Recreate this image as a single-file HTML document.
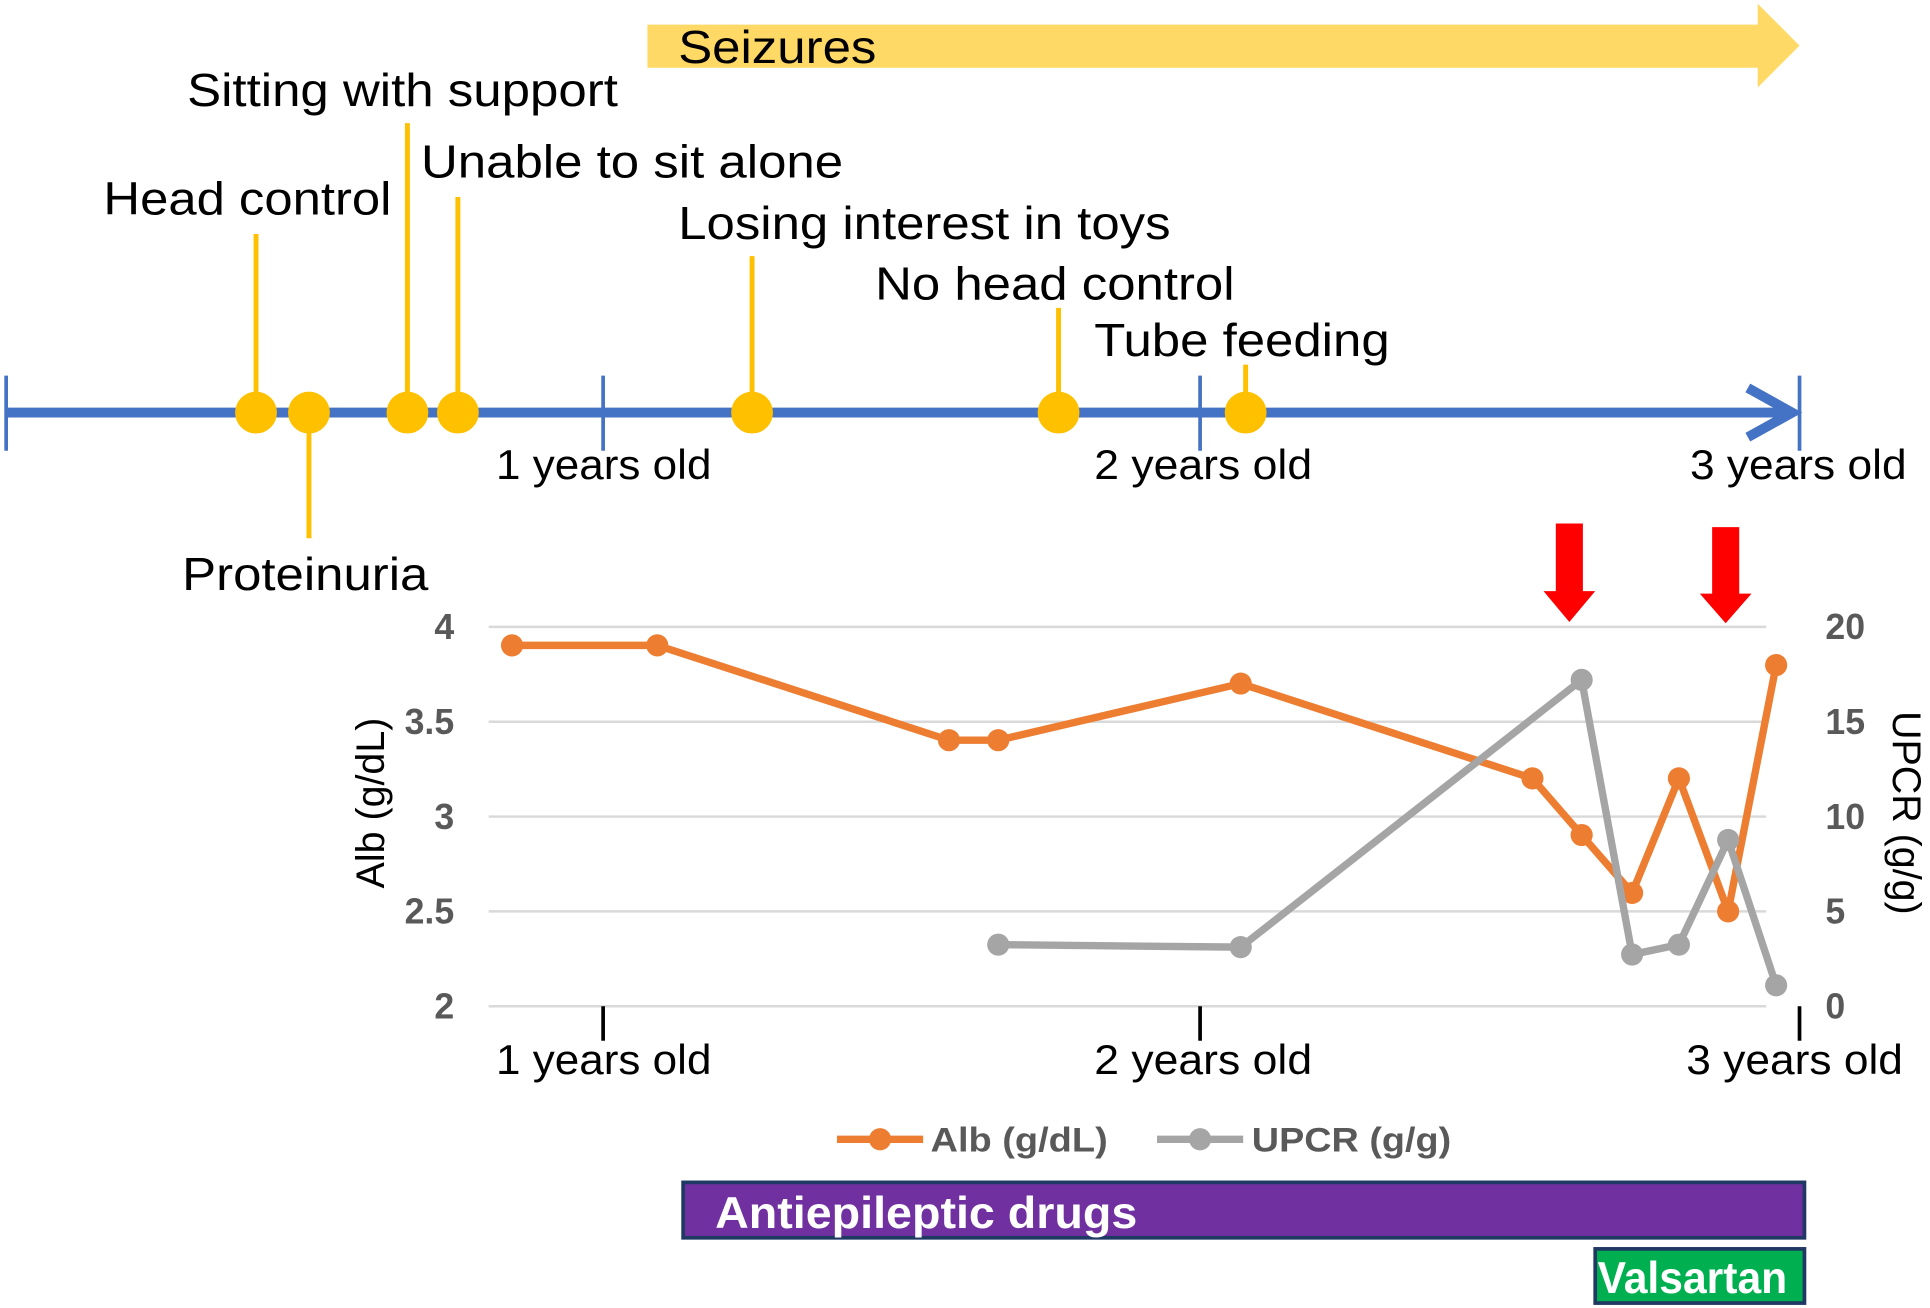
<!DOCTYPE html>
<html><head><meta charset="utf-8"><style>html,body{margin:0;padding:0;background:#fff}svg{display:block}</style></head>
<body>
<svg width="1930" height="1308" viewBox="0 0 1568 1062" preserveAspectRatio="none" xmlns="http://www.w3.org/2000/svg" font-family="Liberation Sans, Arial, sans-serif">
<polygon points="526,20 1428,20 1428,3 1462,37 1428,71 1428,55 526,55" fill="#FFD966"/>
<text x="551" y="51" font-size="38" fill="#000" textLength="161" lengthAdjust="spacingAndGlyphs">Seizures</text>
<g stroke="#FFC000" stroke-width="4">
<line x1="208" y1="190" x2="208" y2="335"/>
<line x1="251" y1="335" x2="251" y2="437"/>
<line x1="331" y1="100" x2="331" y2="335"/>
<line x1="372" y1="160" x2="372" y2="335"/>
<line x1="611" y1="208" x2="611" y2="335"/>
<line x1="860" y1="250" x2="860" y2="335"/>
<line x1="1012" y1="296" x2="1012" y2="335"/>
</g>
<line x1="5" y1="335" x2="1456" y2="335" stroke="#4472C4" stroke-width="8"/>
<polyline points="1420,315 1456,335 1420,355" fill="none" stroke="#4472C4" stroke-width="8"/>
<g stroke="#4472C4" stroke-width="3">
<line x1="5" y1="305" x2="5" y2="366"/>
<line x1="490" y1="305" x2="490" y2="366"/>
<line x1="975" y1="305" x2="975" y2="366"/>
<line x1="1462" y1="305" x2="1462" y2="366"/>
</g>
<g fill="#FFC000">
<circle cx="208" cy="335" r="17"/><circle cx="251" cy="335" r="17"/><circle cx="331" cy="335" r="17"/><circle cx="372" cy="335" r="17"/><circle cx="611" cy="335" r="17"/><circle cx="860" cy="335" r="17"/><circle cx="1012" cy="335" r="17"/>
</g>
<g font-size="38" fill="#000">
<text x="84" y="174" textLength="234" lengthAdjust="spacingAndGlyphs">Head control</text>
<text x="152" y="86" textLength="350" lengthAdjust="spacingAndGlyphs">Sitting with support</text>
<text x="342" y="144" textLength="343" lengthAdjust="spacingAndGlyphs">Unable to sit alone</text>
<text x="551" y="194" textLength="400" lengthAdjust="spacingAndGlyphs">Losing interest in toys</text>
<text x="711" y="243" textLength="292" lengthAdjust="spacingAndGlyphs">No head control</text>
<text x="889" y="289" textLength="240" lengthAdjust="spacingAndGlyphs">Tube feeding</text>
<text x="148" y="479" textLength="200" lengthAdjust="spacingAndGlyphs">Proteinuria</text>
</g>
<g font-size="34" fill="#000">
<text x="403" y="389" textLength="175" lengthAdjust="spacingAndGlyphs">1 years old</text>
<text x="889" y="389" textLength="177" lengthAdjust="spacingAndGlyphs">2 years old</text>
<text x="1373" y="389" textLength="176" lengthAdjust="spacingAndGlyphs">3 years old</text>
<text x="403" y="872" textLength="175" lengthAdjust="spacingAndGlyphs">1 years old</text>
<text x="889" y="872" textLength="177" lengthAdjust="spacingAndGlyphs">2 years old</text>
<text x="1370" y="872" textLength="176" lengthAdjust="spacingAndGlyphs">3 years old</text>
</g>
<g stroke="#D9D9D9" stroke-width="2">
<line x1="397" y1="509" x2="1435" y2="509"/>
<line x1="397" y1="586" x2="1435" y2="586"/>
<line x1="397" y1="663" x2="1435" y2="663"/>
<line x1="397" y1="740" x2="1435" y2="740"/>
<line x1="397" y1="817" x2="1435" y2="817"/>
</g>
<g stroke="#000" stroke-width="3">
<line x1="490" y1="817" x2="490" y2="845"/>
<line x1="975" y1="817" x2="975" y2="845"/>
<line x1="1462" y1="817" x2="1462" y2="845"/>
</g>
<g font-size="29" font-weight="bold" fill="#595959" text-anchor="end">
<text x="369" y="519">4</text><text x="369" y="596">3.5</text><text x="369" y="673">3</text><text x="369" y="750">2.5</text><text x="369" y="827">2</text>
</g>
<g font-size="29" font-weight="bold" fill="#595959">
<text x="1483" y="519">20</text><text x="1483" y="596">15</text><text x="1483" y="673">10</text><text x="1483" y="750">5</text><text x="1483" y="827">0</text>
</g>
<text transform="translate(312,652) rotate(-90)" font-size="32" text-anchor="middle" fill="#000">Alb (g/dL)</text>
<text transform="translate(1538,660) rotate(90)" font-size="32" text-anchor="middle" fill="#000">UPCR (g/g)</text>
<polyline points="416,524 534,524 771,601 811,601 1008,555 1245,632 1285,678 1326,725 1364,632 1404,740 1443,540" fill="none" stroke="#ED7D31" stroke-width="6" stroke-linejoin="round"/>
<g fill="#ED7D31"><circle cx="416" cy="524" r="9"/><circle cx="534" cy="524" r="9"/><circle cx="771" cy="601" r="9"/><circle cx="811" cy="601" r="9"/><circle cx="1008" cy="555" r="9"/><circle cx="1245" cy="632" r="9"/><circle cx="1285" cy="678" r="9"/><circle cx="1326" cy="725" r="9"/><circle cx="1364" cy="632" r="9"/><circle cx="1404" cy="740" r="9"/><circle cx="1443" cy="540" r="9"/></g>
<polyline points="811,767 1008,769 1285,552 1326,775 1364,767 1404,682 1443,800" fill="none" stroke="#A5A5A5" stroke-width="6" stroke-linejoin="round"/>
<g fill="#A5A5A5"><circle cx="811" cy="767" r="9"/><circle cx="1008" cy="769" r="9"/><circle cx="1285" cy="552" r="9"/><circle cx="1326" cy="775" r="9"/><circle cx="1364" cy="767" r="9"/><circle cx="1404" cy="682" r="9"/><circle cx="1443" cy="800" r="9"/></g>
<polygon points="1264,425 1286,425 1286,480 1296,480 1275,505 1254,480 1264,480" fill="#FF0000"/>
<polygon points="1391,428 1413,428 1413,482 1423,482 1402,506 1381,482 1391,482" fill="#FF0000"/>
<line x1="680" y1="925" x2="750" y2="925" stroke="#ED7D31" stroke-width="6"/><circle cx="715" cy="925" r="9" fill="#ED7D31"/>
<text x="756" y="935" font-size="28" font-weight="bold" fill="#595959" textLength="144" lengthAdjust="spacingAndGlyphs">Alb (g/dL)</text>
<line x1="940" y1="925" x2="1010" y2="925" stroke="#A5A5A5" stroke-width="6"/><circle cx="975" cy="925" r="9" fill="#A5A5A5"/>
<text x="1017" y="935" font-size="28" font-weight="bold" fill="#595959" textLength="162" lengthAdjust="spacingAndGlyphs">UPCR (g/g)</text>
<rect x="555" y="960" width="911" height="45" fill="#7030A0" stroke="#1F3864" stroke-width="3"/>
<text x="581" y="997" font-size="36" font-weight="bold" fill="#fff" textLength="343" lengthAdjust="spacingAndGlyphs">Antiepileptic drugs</text>
<rect x="1296" y="1014" width="170" height="44" fill="#00B050" stroke="#1F3864" stroke-width="3"/>
<text x="1298" y="1050" font-size="36" font-weight="bold" fill="#fff" textLength="154" lengthAdjust="spacingAndGlyphs">Valsartan</text>
</svg>
</body></html>
